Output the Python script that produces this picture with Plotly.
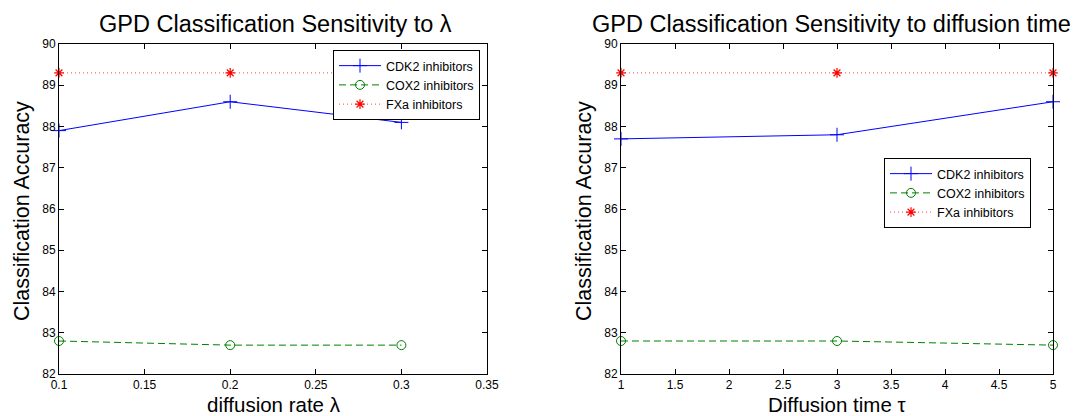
import plotly.graph_objects as go

W, H = 1079, 416

# ---- data ----
lam = [0.1, 0.2, 0.3]
lam_cdk2 = [87.9, 88.6, 88.1]
lam_cox2 = [82.8, 82.7, 82.7]
lam_fxa = [89.3, 89.3, 89.3]

tau = [1, 3, 5]
tau_cdk2 = [87.7, 87.8, 88.6]
tau_cox2 = [82.8, 82.8, 82.7]
tau_fxa = [89.3, 89.3, 89.3]

names = ["CDK2 inhibitors", "COX2 inhibitors", "FXa inhibitors"]

FONT = "Liberation Sans, Arial, Helvetica, sans-serif"

def px(x):
    return x / W

def py(y):
    return 1 - y / H

styles = [
    dict(line=dict(color="#0000FF", width=1), marker=dict(symbol="cross-thin-open", size=10, line=dict(color="#0000FF", width=1))),
    dict(line=dict(color="#008000", width=1, dash="7px,4px"), marker=dict(symbol="circle-open", size=9, color="#008000", line=dict(color="#008000", width=1))),
    dict(line=dict(color="#FF4040", width=1, dash="1px,3px"), marker=dict(symbol="asterisk-open", size=8, color="#FF0000", line=dict(color="#FF0000", width=1.2))),
]

fig = go.Figure()

for i, ys in enumerate([lam_cdk2, lam_cox2, lam_fxa]):
    fig.add_trace(go.Scatter(x=lam, y=ys, name=names[i], mode="lines+markers",
                             xaxis="x", yaxis="y", legend="legend", cliponaxis=False, **styles[i]))
for i, ys in enumerate([tau_cdk2, tau_cox2, tau_fxa]):
    fig.add_trace(go.Scatter(x=tau, y=ys, name=names[i], mode="lines+markers",
                             xaxis="x2", yaxis="y2", legend="legend2", cliponaxis=False, **styles[i]))

axis_common = dict(showline=True, linecolor="black", linewidth=1, mirror="ticks",
                   ticks="inside", ticklen=5, tickcolor="black", showgrid=False,
                   zeroline=False, automargin=False,
                   tickfont=dict(family=FONT, size=12, color="black"))

L0, L1 = 59, 487
R0, R1 = 621, 1053
T, B = 44, 374

fig.update_layout(
    width=W, height=H,
    margin=dict(l=0, r=0, t=0, b=0, autoexpand=False),
    paper_bgcolor="white", plot_bgcolor="white",
    font=dict(family=FONT, color="black"),
    xaxis=dict(domain=[px(L0), px(L1)], range=[0.1, 0.35], dtick=0.05, tick0=0.1, anchor="y",
               ticklabelstandoff=0, **axis_common),
    yaxis=dict(domain=[py(B), py(T)], range=[82, 90], dtick=1, anchor="x", **axis_common),
    xaxis2=dict(domain=[px(R0), px(R1)], range=[1, 5], dtick=0.5, tick0=1, anchor="y2",
                ticklabelstandoff=0, **axis_common),
    yaxis2=dict(domain=[py(B), py(T)], range=[82, 90], dtick=1, anchor="x2", **axis_common),
    legend=dict(x=px(333), y=py(50), xanchor="left", yanchor="top", bgcolor="white",
                bordercolor="black", borderwidth=1, font=dict(family=FONT, size=12.5, color="black"),
                tracegroupgap=0, itemwidth=42),
    legend2=dict(x=px(884), y=py(158), xanchor="left", yanchor="top", bgcolor="white",
                 bordercolor="black", borderwidth=1, font=dict(family=FONT, size=12.5, color="black"),
                 tracegroupgap=0, itemwidth=42),
    showlegend=True,
)

ann = [
    dict(text="GPD Classification Sensitivity to λ", x=px(275), y=py(24), size=23.5),
    dict(text="GPD Classification Sensitivity to diffusion time", x=px(831), y=py(24), size=23.5),
    dict(text="diffusion rate λ", x=px(274), y=py(404), size=20.5),
    dict(text="Diffusion time τ", x=px(837), y=py(404), size=20.5),
    dict(text="Classification Accuracy", x=px(22), y=py(211), textangle=-90, size=21.5),
    dict(text="Classification Accuracy", x=px(584), y=py(211), textangle=-90, size=21.5),
]
for a in ann:
    size = a.pop("size")
    fig.add_annotation(xref="paper", yref="paper", showarrow=False, xanchor="center", yanchor="middle",
                       font=dict(family=FONT, size=size, color="black"), **a)

fig.write_html("out.html", config={"displayModeBar": False},
               post_script="document.body.style.margin='0';document.body.style.overflow='hidden';")
